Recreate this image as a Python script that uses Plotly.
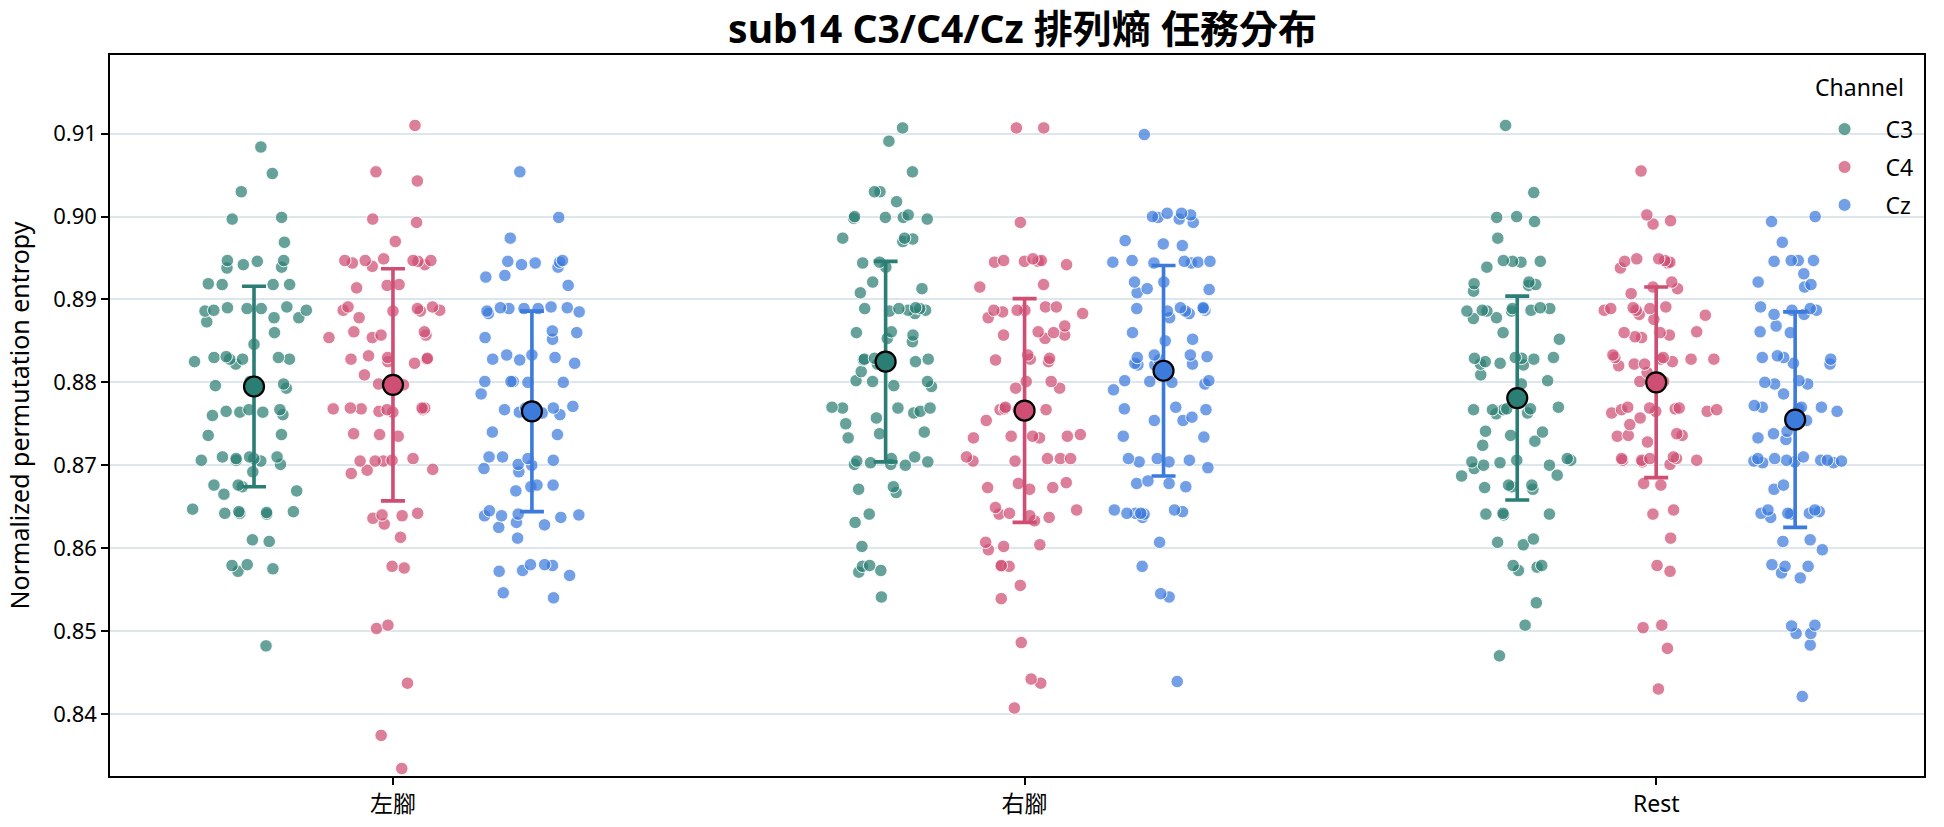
import plotly.graph_objects as go

tasks = ["左腳", "右腳", "Rest"]
channels = ["C3", "C4", "Cz"]

c3_left = [0.9084, 0.9052, 0.9030, 0.8999, 0.8997, 0.8969,
           0.8947, 0.8947, 0.8939, 0.8938, 0.8946, 0.8942,
           0.8918, 0.8918, 0.8919, 0.8918,
           0.8891, 0.8887, 0.8889, 0.8890, 0.8889, 0.8887, 0.8878, 0.8878, 0.8873, 0.8886,
           0.8860, 0.8846,
           0.8831, 0.8825, 0.8828, 0.8830, 0.8828, 0.8828, 0.8830, 0.8822,
           0.8801, 0.8796, 0.8798, 0.8793,
           0.8767, 0.8764, 0.8764, 0.8767, 0.8765, 0.8760, 0.8761,
           0.8737, 0.8736,
           0.8710, 0.8710, 0.8708, 0.8706, 0.8708, 0.8706, 0.8710, 0.8701, 0.8692, 0.8705,
           0.8676, 0.8674, 0.8665, 0.8669, 0.8676,
           0.8647, 0.8641, 0.8643, 0.8642, 0.8644, 0.8642, 0.8644,
           0.8608, 0.8610,
           0.8580, 0.8572, 0.8579, 0.8575,
           0.8482]
c3_right = [0.9107, 0.9091, 0.9054,
            0.9030, 0.9030, 0.9018,
            0.8999, 0.8998, 0.9002, 0.9000, 0.8999, 0.8997,
            0.8974, 0.8974, 0.8970, 0.8973,
            0.8939, 0.8945, 0.8944,
            0.8921, 0.8913, 0.8908,
            0.8887, 0.8883, 0.8889, 0.8887, 0.8889, 0.8886, 0.8889, 0.8890,
            0.8857, 0.8853, 0.8861, 0.8860, 0.8849,
            0.8828, 0.8828, 0.8827, 0.8825, 0.8822, 0.8829, 0.8828, 0.8813,
            0.8801, 0.8801, 0.8802, 0.8796, 0.8795,
            0.8769, 0.8769, 0.8765, 0.8757, 0.8770, 0.8763, 0.8769, 0.8750, 0.8738, 0.8733, 0.8740,
            0.8700, 0.8705, 0.8701, 0.8708, 0.8710, 0.8704, 0.8701, 0.8703,
            0.8674, 0.8671, 0.8667,
            0.8641, 0.8631,
            0.8602,
            0.8579, 0.8571, 0.8578, 0.8573,
            0.8541]
c3_rest = [0.9110, 0.9029, 0.8999, 0.8994, 0.9000, 0.8974,
           0.8946, 0.8946, 0.8945, 0.8939, 0.8947,
           0.8921, 0.8918, 0.8919, 0.8917, 0.8910,
           0.8887, 0.8886, 0.8887, 0.8886, 0.8889, 0.8890, 0.8886, 0.8889, 0.8877, 0.8878,
           0.8860, 0.8852,
           0.8830, 0.8829, 0.8828, 0.8830, 0.8822, 0.8821, 0.8829, 0.8825, 0.8823,
           0.8809, 0.8802, 0.8798,
           0.8768, 0.8770, 0.8763, 0.8767, 0.8767, 0.8768, 0.8767, 0.8762,
           0.8741, 0.8740, 0.8724, 0.8736, 0.8729,
           0.8708, 0.8700, 0.8706, 0.8704, 0.8706, 0.8696, 0.8703, 0.8700, 0.8688, 0.8687,
           0.8676, 0.8674, 0.8671, 0.8673, 0.8676,
           0.8642, 0.8640, 0.8641, 0.8641,
           0.8611, 0.8607, 0.8604,
           0.8579, 0.8579, 0.8577, 0.8573,
           0.8534, 0.8507, 0.8470]

c4_left = [0.9110, 0.9054, 0.9043, 0.8997, 0.8993, 0.8970,
           0.8947, 0.8947, 0.8946, 0.8942, 0.8949, 0.8947, 0.8947, 0.8940, 0.8944,
           0.8918, 0.8914, 0.8917,
           0.8891, 0.8889, 0.8887, 0.8886, 0.8887, 0.8886, 0.8891, 0.8878,
           0.8857, 0.8857, 0.8861, 0.8854, 0.8861, 0.8854,
           0.8829, 0.8828, 0.8823, 0.8830, 0.8828, 0.8825, 0.8832,
           0.8809, 0.8797, 0.8798,
           0.8769, 0.8767, 0.8767, 0.8768, 0.8765, 0.8769, 0.8768, 0.8769, 0.8764,
           0.8737, 0.8738, 0.8735,
           0.8706, 0.8695, 0.8694, 0.8705, 0.8708, 0.8705, 0.8705, 0.8690,
           0.8642, 0.8639, 0.8636, 0.8629, 0.8640,
           0.8613,
           0.8576, 0.8578,
           0.8507, 0.8503,
           0.8437, 0.8374, 0.8334]
c4_right = [0.9107, 0.9107, 0.8993,
            0.8945, 0.8949, 0.8942, 0.8946, 0.8947, 0.8946, 0.8947,
            0.8918, 0.8915,
            0.8891, 0.8883, 0.8891, 0.8885, 0.8887, 0.8887, 0.8887, 0.8878,
            0.8868, 0.8857, 0.8861, 0.8860, 0.8853, 0.8857,
            0.8833, 0.8828, 0.8825, 0.8827, 0.8829,
            0.8801, 0.8801, 0.8793, 0.8793,
            0.8770, 0.8767, 0.8767, 0.8768, 0.8767, 0.8770, 0.8754,
            0.8737, 0.8735, 0.8733, 0.8735, 0.8735, 0.8733,
            0.8708, 0.8708, 0.8705, 0.8710, 0.8705, 0.8708,
            0.8679, 0.8671, 0.8673, 0.8673, 0.8678,
            0.8646, 0.8641, 0.8637, 0.8642, 0.8639, 0.8649, 0.8633,
            0.8607, 0.8602, 0.8604, 0.8598,
            0.8578, 0.8578, 0.8579, 0.8555, 0.8539,
            0.8486, 0.8437, 0.8442, 0.8407]
c4_rest = [0.9055, 0.9002, 0.8991, 0.8995,
           0.8947, 0.8949, 0.8945, 0.8944, 0.8949, 0.8938, 0.8946,
           0.8921, 0.8913, 0.8907, 0.8915,
           0.8889, 0.8891, 0.8890, 0.8887, 0.8889, 0.8881, 0.8882, 0.8887, 0.8876,
           0.8860, 0.8860, 0.8854, 0.8857, 0.8861, 0.8855,
           0.8828, 0.8825, 0.8822, 0.8833, 0.8828, 0.8822, 0.8830, 0.8828, 0.8820, 0.8830, 0.8812,
           0.8801, 0.8801,
           0.8765, 0.8763, 0.8767, 0.8769, 0.8757, 0.8769, 0.8767, 0.8765, 0.8770, 0.8768, 0.8749,
           0.8736, 0.8735, 0.8738, 0.8728, 0.8736,
           0.8706, 0.8706, 0.8708, 0.8710, 0.8704, 0.8708, 0.8701, 0.8708, 0.8706,
           0.8678, 0.8676,
           0.8641, 0.8646,
           0.8612,
           0.8572, 0.8579,
           0.8507, 0.8504, 0.8479, 0.8430]

cz_left = [0.9054, 0.8999, 0.8974,
           0.8947, 0.8945, 0.8944, 0.8942, 0.8939, 0.8946,
           0.8929, 0.8927, 0.8917,
           0.8889, 0.8889, 0.8890, 0.8885, 0.8890, 0.8891, 0.8886, 0.8883, 0.8889,
           0.8862, 0.8860, 0.8852, 0.8854,
           0.8833, 0.8833, 0.8823, 0.8830, 0.8827, 0.8828,
           0.8801, 0.8801, 0.8801, 0.8800, 0.8800, 0.8786,
           0.8771, 0.8761, 0.8769, 0.8769, 0.8763, 0.8764, 0.8767, 0.8737, 0.8740,
           0.8710, 0.8706, 0.8696, 0.8701, 0.8700, 0.8692, 0.8708, 0.8710,
           0.8676, 0.8669, 0.8674, 0.8676,
           0.8641, 0.8640, 0.8639, 0.8639, 0.8631, 0.8645, 0.8637, 0.8625, 0.8628, 0.8612,
           0.8580, 0.8572, 0.8567, 0.8579, 0.8573, 0.8580, 0.8546, 0.8540]
cz_right = [0.9099,
            0.9004, 0.8997, 0.8993, 0.8999, 0.9000, 0.9004, 0.9002,
            0.8971, 0.8965, 0.8967,
            0.8946, 0.8946, 0.8945, 0.8945, 0.8944, 0.8947, 0.8944,
            0.8921, 0.8921, 0.8912, 0.8908, 0.8913,
            0.8887, 0.8878, 0.8889, 0.8886, 0.8890, 0.8883, 0.8889, 0.8890, 0.8886,
            0.8860, 0.8852, 0.8850,
            0.8830, 0.8831, 0.8833, 0.8833, 0.8823, 0.8827, 0.8822, 0.8821, 0.8821,
            0.8802, 0.8800, 0.8798, 0.8801, 0.8802, 0.8791,
            0.8770, 0.8768, 0.8767, 0.8758, 0.8754, 0.8754, 0.8735, 0.8734,
            0.8708, 0.8706, 0.8704, 0.8697, 0.8708, 0.8704,
            0.8681, 0.8678, 0.8674, 0.8678,
            0.8646, 0.8637, 0.8641, 0.8642, 0.8646, 0.8642, 0.8642, 0.8644,
            0.8607, 0.8578, 0.8545, 0.8541, 0.8439]
cz_rest = [0.9000, 0.8994, 0.8969,
           0.8947, 0.8947, 0.8946, 0.8947,
           0.8931, 0.8921, 0.8918, 0.8915,
           0.8889, 0.8887, 0.8891, 0.8887, 0.8882, 0.8882,
           0.8868, 0.8861, 0.8860,
           0.8830, 0.8828, 0.8832, 0.8830, 0.8822, 0.8823,
           0.8798, 0.8798, 0.8802, 0.8800, 0.8786,
           0.8770, 0.8768, 0.8772, 0.8770, 0.8770, 0.8765, 0.8754, 0.8741, 0.8738, 0.8731, 0.8733,
           0.8708, 0.8703, 0.8703, 0.8708, 0.8706, 0.8704, 0.8710, 0.8706, 0.8706, 0.8705, 0.8705,
           0.8676, 0.8671,
           0.8646, 0.8642, 0.8644, 0.8642, 0.8646, 0.8641, 0.8642, 0.8637,
           0.8610, 0.8608, 0.8598,
           0.8578, 0.8578, 0.8580, 0.8570, 0.8564,
           0.8507, 0.8497, 0.8506, 0.8483, 0.8497,
           0.8421]

# mean and standard deviation (per task: 左腳, 右腳, Rest)
c3_mean = [0.8795, 0.8825, 0.8781]
c3_sd = [0.0121, 0.0121, 0.0123]
c4_mean = [0.8797, 0.8766, 0.8800]
c4_sd = [0.0140, 0.0135, 0.0115]
cz_mean = [0.8765, 0.8814, 0.8755]
cz_sd = [0.0121, 0.0127, 0.0130]

samples = {"C3": [c3_left, c3_right, c3_rest],
           "C4": [c4_left, c4_right, c4_rest],
           "Cz": [cz_left, cz_right, cz_rest]}
means = {"C3": c3_mean, "C4": c4_mean, "Cz": cz_mean}
sds = {"C3": c3_sd, "C4": c4_sd, "Cz": cz_sd}

base_col = {"C3": "#2b7e73", "C4": "#cf4e73", "Cz": "#3c7adb"}
pt_col = {"C3": "rgba(43,126,115,0.72)", "C4": "rgba(207,78,115,0.72)", "Cz": "rgba(60,122,219,0.72)"}

FONT = "Noto Sans, Noto Sans CJK TC, sans-serif"

fig = go.Figure()

for ch in channels:
    xs, ys = [], []
    for t, vals in zip(tasks, samples[ch]):
        xs += [t] * len(vals)
        ys += vals
    fig.add_trace(go.Box(
        x=xs, y=ys, name=ch, offsetgroup=ch, legendgroup=ch,
        boxpoints="all", jitter=0.95, pointpos=0,
        fillcolor="rgba(0,0,0,0)", line=dict(width=0, color="rgba(0,0,0,0)"),
        marker=dict(color=pt_col[ch], size=12.5, line=dict(color="white", width=0.9)),
        showlegend=False, hoveron="points",
    ))

for ch in channels:
    fig.add_trace(go.Scatter(
        x=tasks, y=means[ch], mode="markers", name=ch, offsetgroup=ch,
        legendgroup=ch, showlegend=False,
        marker=dict(color=base_col[ch], size=20, line=dict(color="black", width=2.2)),
        error_y=dict(type="data", array=sds[ch], visible=True, color=base_col[ch],
                     thickness=3.6, width=12),
    ))

for ch in channels:
    fig.add_trace(go.Scatter(
        x=[None], y=[None], mode="markers", name=ch, legendgroup=ch,
        marker=dict(color=pt_col[ch], size=13, line=dict(color="white", width=0.9)),
    ))

fig.update_layout(
    width=1944, height=827,
    margin=dict(l=110, r=20, t=55, b=51),
    paper_bgcolor="white", plot_bgcolor="white",
    font=dict(family=FONT, color="black", size=22),
    title=dict(text="<b>sub14 C3/C4/Cz 排列熵 任務分布</b>", x=0.526, xanchor="center",
               y=0.964, yanchor="middle", font=dict(size=39, family=FONT)),
    boxmode="group", boxgap=0.34, boxgroupgap=0,
    scattermode="group", scattergap=0.34,
    showlegend=True,
    legend=dict(x=0.997, xanchor="right", y=0.927, yanchor="top",
                bgcolor="rgba(0,0,0,0)", font=dict(size=23),
                itemwidth=72,
                tracegroupgap=5, traceorder="grouped"),
    annotations=[dict(text="Channel", xref="paper", yref="paper", x=0.9647, y=0.9556,
                      xanchor="center", yanchor="middle", showarrow=False,
                      font=dict(size=23, family=FONT))],
)

fig.update_xaxes(
    type="category", categoryorder="array", categoryarray=tasks,
    range=[-0.448, 2.424], automargin=False,
    showline=True, linecolor="black", linewidth=1.5, mirror=True,
    ticks="outside", ticklen=7, tickwidth=1.5, tickcolor="black",
    showgrid=False, tickfont=dict(size=23), zeroline=False,
)
fig.update_yaxes(
    range=[0.8325, 0.9195], dtick=0.01, tick0=0.84, tickformat=".2f",
    automargin=False,
    showline=True, linecolor="black", linewidth=1.5, mirror=True,
    ticks="outside", ticklen=7, tickwidth=1.5, tickcolor="black",
    showgrid=True, gridcolor="#dde5ed", gridwidth=1.5, zeroline=False,
    tickfont=dict(size=22),
    title=dict(text="Normalized permutation entropy", font=dict(size=25), standoff=16),
)

fig.write_html("out.html")
